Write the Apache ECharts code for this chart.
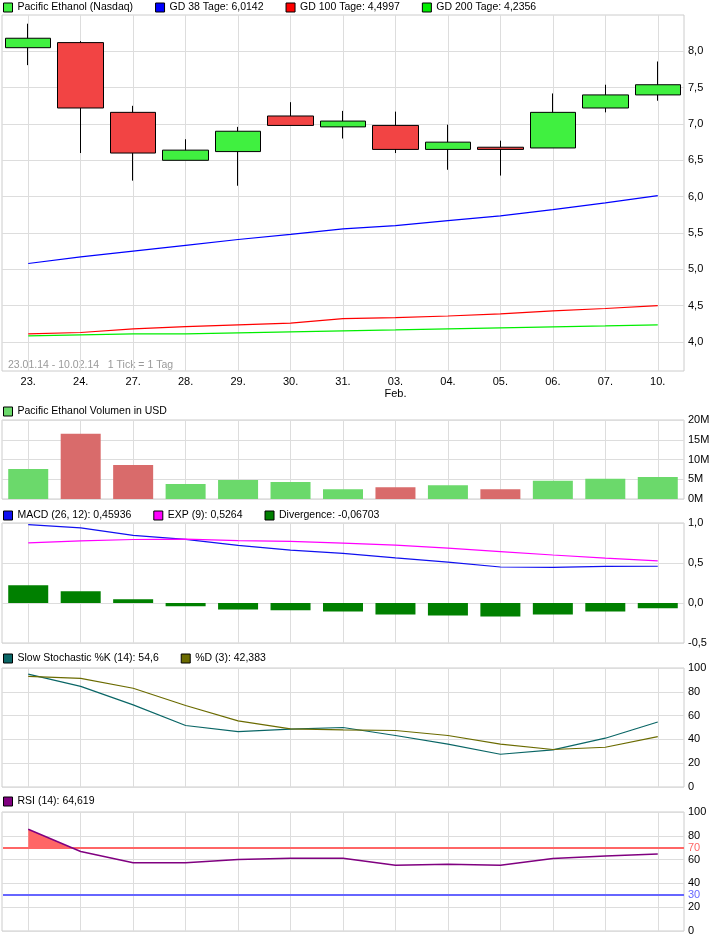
<!DOCTYPE html>
<html><head><meta charset="utf-8">
<script src="https://cdn.jsdelivr.net/npm/echarts@6/dist/echarts.min.js"></script>
<style>html,body{margin:0;padding:0;background:#fff}#c{width:726px;height:940px}</style>
</head><body><div id="c"></div>
<script>
// ---- data ----
const dates = ['23.','24.','27.','28.','29.','30.','31.','03.\nFeb.','04.','05.','06.','07.','10.'];
const openP  = [8.05, 8.12, 7.16, 6.50, 6.62, 7.11, 6.96, 6.98, 6.65, 6.68, 6.67, 7.22, 7.40];
const closeP = [8.18, 7.22, 6.60, 6.64, 6.90, 6.98, 7.04, 6.65, 6.75, 6.65, 7.16, 7.40, 7.54];
const lowP   = [7.81, 6.60, 6.22, 6.50, 6.15, 6.98, 6.80, 6.60, 6.37, 6.29, 6.67, 7.16, 7.32];
const highP  = [8.38, 8.14, 7.25, 6.79, 6.96, 7.30, 7.18, 7.17, 6.99, 6.77, 7.42, 7.54, 7.86];
const gd38  = [5.08, 5.17, 5.25, 5.33, 5.41, 5.48, 5.555, 5.60, 5.67, 5.735, 5.82, 5.915, 6.0142];
const gd100 = [4.11, 4.13, 4.18, 4.21, 4.234, 4.26, 4.32, 4.334, 4.357, 4.385, 4.427, 4.46, 4.4997];
const gd200 = [4.083, 4.097, 4.11, 4.11, 4.124, 4.138, 4.151, 4.165, 4.18, 4.193, 4.207, 4.22, 4.2356];
const volume = [7.6, 16.5, 8.6, 3.8, 4.8, 4.3, 2.5, 3.0, 3.5, 2.5, 4.6, 5.1, 5.6]; // in millions USD
const volDir = ['up','down','down','up','up','up','up','down','up','down','up','up','up'];
const macd = [0.98, 0.94, 0.845, 0.795, 0.72, 0.66, 0.62, 0.563, 0.51, 0.45, 0.445, 0.457, 0.45936];
const expSig = [0.752, 0.777, 0.794, 0.798, 0.78, 0.77, 0.748, 0.723, 0.685, 0.643, 0.60, 0.56, 0.5264];
const divergence = [0.223, 0.147, 0.046, -0.042, -0.08, -0.092, -0.105, -0.143, -0.155, -0.168, -0.143, -0.105, -0.06703];
const stochK = [94.9, 84.6, 69, 51.7, 46.6, 48.6, 50, 43.3, 36, 27.5, 31.2, 41, 54.6];
const stochD = [93, 91.3, 83, 68.5, 55.6, 48.9, 48, 47.5, 43.3, 36, 31.5, 33.4, 42.383];
const rsi = [85.5, 66.8, 57.3, 57.3, 60, 61.2, 61.2, 55.3, 56.1, 55.3, 60.9, 63.1, 64.619];
const priceTicks = [4.0, 4.5, 5.0, 5.5, 6.0, 6.5, 7.0, 7.5, 8.0];
const rsiUpper = 70;
const rsiLower = 30;
const rangeText = '23.01.14 - 10.02.14   1 Tick = 1 Tag';

// ---- chart ----
const FONT = 'Liberation Sans, Arial, sans-serif';
const GRIDLINE = '#DDDDDD';
const BORDER = '#CCCCCC';
const UPPER_COLOR = '#FF6666';
const LOWER_COLOR = '#6666FF';
const comma = (v, d) => v.toFixed(d).replace('.', ',');

const gridDefs = [
  {top: 15, height: 356},
  {top: 420, height: 79},
  {top: 523, height: 120},
  {top: 668, height: 119},
  {top: 812, height: 119}
];
const grids = gridDefs.map(g => ({left: 2, right: 42, top: g.top, height: g.height,
  show: true, borderColor: BORDER, borderWidth: 1, backgroundColor: '#fff'}));

const xAxes = gridDefs.map((g, i) => ({
  type: 'category', gridIndex: i, data: dates, boundaryGap: true,
  axisLine: {show: false}, axisTick: {show: false},
  axisLabel: {show: i === 0, color: '#000', fontSize: 11, fontFamily: FONT, margin: 5, lineHeight: 12},
  splitLine: {show: true, alignWithLabel: true, interval: 0, lineStyle: {color: GRIDLINE, width: 1}}
}));

const yBase = (i, extra) => Object.assign({
  type: 'value', gridIndex: i, position: 'right',
  axisLine: {show: false}, axisTick: {show: false},
  axisLabel: {color: '#000', fontSize: 11, fontFamily: FONT, margin: 4},
  splitLine: {show: true, lineStyle: {color: GRIDLINE, width: 1}}
}, extra);

const yAxes = [
  yBase(0, {min: 3.6, max: 8.5,
    axisTick: {show: false, customValues: priceTicks},
    axisLabel: {color: '#000', fontSize: 11, fontFamily: FONT, margin: 4, customValues: priceTicks, formatter: v => comma(v, 1)}}),
  yBase(1, {min: 0, max: 20, interval: 5,
    axisLabel: {color: '#000', fontSize: 11, fontFamily: FONT, margin: 4, formatter: v => v + 'M'}}),
  yBase(2, {min: -0.5, max: 1.0, interval: 0.5,
    axisLabel: {color: '#000', fontSize: 11, fontFamily: FONT, margin: 4, formatter: v => comma(v, 1)}}),
  yBase(3, {min: 0, max: 100, interval: 20}),
  yBase(4, {min: 0, max: 100, interval: 20})
];

const legendBase = (top, names, gap) => ({
  top: top, left: 3, padding: 0, icon: 'rect', itemWidth: 9, itemHeight: 9, itemGap: gap,
  selectedMode: false, data: names,
  itemStyle: {borderColor: '#000', borderWidth: 1},
  textStyle: {color: '#000', fontSize: 10.5, fontFamily: FONT}
});

const candleData = openP.map((o, i) => [o, closeP[i], lowP[i], highP[i]]);

// one custom series draws both RSI level lines (as filled 2px bands) with their labels
const levelSeries = {
  name: 'RSI levels', type: 'custom', xAxisIndex: 4, yAxisIndex: 4, silent: true, z: 5, clip: false,
  data: [[0, rsiUpper], [0, rsiLower]],
  renderItem: function (params, api) {
    const v = api.value(1);
    const cs = params.coordSys;
    const color = v === rsiUpper ? UPPER_COLOR : LOWER_COLOR;
    const y = Math.round(api.coord([0, v])[1]);
    return {type: 'group', children: [
      {type: 'rect', shape: {x: cs.x + 1, y: y - 1, width: cs.width - 1, height: 2},
        style: {fill: color}},
      {type: 'text', x: cs.x + cs.width + 4, y: y,
        style: {text: String(v), fill: color, font: '11px ' + FONT, verticalAlign: 'middle', textVerticalAlign: 'middle'}}
    ]};
  }
};

const option = {
  animation: false,
  backgroundColor: '#fff',
  grid: grids,
  xAxis: xAxes,
  yAxis: yAxes,
  legend: [
    legendBase(2, ['Pacific Ethanol (Nasdaq)', 'GD 38 Tage: 6,0142', 'GD 100 Tage: 4,4997', 'GD 200 Tage: 4,2356'], 22),
    legendBase(406, ['Pacific Ethanol Volumen in USD'], 22),
    legendBase(510, ['MACD (26, 12): 0,45936', 'EXP (9): 0,5264', 'Divergence: -0,06703'], 22),
    legendBase(653, ['Slow Stochastic %K (14): 54,6', '%D (3): 42,383'], 22),
    legendBase(796, ['RSI (14): 64,619'], 22)
  ],
  graphic: [{type: 'text', left: 8, top: 360, silent: true,
    style: {text: rangeText, fill: '#999999', font: '10.5px ' + FONT}}],
  series: [
    {name: 'Pacific Ethanol (Nasdaq)', type: 'candlestick', xAxisIndex: 0, yAxisIndex: 0,
      data: candleData, barWidth: 46, silent: true,
      itemStyle: {color: '#40F040', color0: '#F24444', borderColor: '#000', borderColor0: '#000', borderWidth: 1}},
    {name: 'GD 38 Tage: 6,0142', type: 'line', xAxisIndex: 0, yAxisIndex: 0, data: gd38,
      symbol: 'none', silent: true, color: '#0000FF', lineStyle: {width: 1.2}},
    {name: 'GD 100 Tage: 4,4997', type: 'line', xAxisIndex: 0, yAxisIndex: 0, data: gd100,
      symbol: 'none', silent: true, color: '#FF0000', lineStyle: {width: 1.2}},
    {name: 'GD 200 Tage: 4,2356', type: 'line', xAxisIndex: 0, yAxisIndex: 0, data: gd200,
      symbol: 'none', silent: true, color: '#00EE00', lineStyle: {width: 1.2}},
    {name: 'Pacific Ethanol Volumen in USD', type: 'bar', xAxisIndex: 1, yAxisIndex: 1,
      barWidth: 40, silent: true, color: '#6BD96B',
      data: volume.map((v, i) => ({value: v, itemStyle: {color: volDir[i] === 'up' ? '#6BD96B' : '#D96B6B'}}))},
    {name: 'MACD (26, 12): 0,45936', type: 'line', xAxisIndex: 2, yAxisIndex: 2, data: macd,
      symbol: 'none', silent: true, color: '#1010F0', lineStyle: {width: 1.2}, z: 3},
    {name: 'EXP (9): 0,5264', type: 'line', xAxisIndex: 2, yAxisIndex: 2, data: expSig,
      symbol: 'none', silent: true, color: '#FF00FF', lineStyle: {width: 1.2}, z: 3},
    {name: 'Divergence: -0,06703', type: 'bar', xAxisIndex: 2, yAxisIndex: 2, data: divergence,
      barWidth: 40, silent: true, color: '#008000'},
    {name: 'Slow Stochastic %K (14): 54,6', type: 'line', xAxisIndex: 3, yAxisIndex: 3, data: stochK,
      symbol: 'none', silent: true, color: '#0A6666', lineStyle: {width: 1.2}},
    {name: '%D (3): 42,383', type: 'line', xAxisIndex: 3, yAxisIndex: 3, data: stochD,
      symbol: 'none', silent: true, color: '#6B6B00', lineStyle: {width: 1.2}},
    {name: 'RSI fill', type: 'custom', xAxisIndex: 4, yAxisIndex: 4, silent: true, z: 1,
      itemStyle: {color: UPPER_COLOR},
      data: rsi.slice(0, -1).map((v, i) => [i, v, rsi[i + 1]]),
      renderItem: function (params, api) {
        const lvl = rsiUpper;
        const i = api.value(0), a = api.value(1), b = api.value(2);
        if (a <= lvl && b <= lvl) return null;
        const pA = api.coord([i, a]), pB = api.coord([i + 1, b]);
        const pA0 = api.coord([i, lvl]), pB0 = api.coord([i + 1, lvl]);
        let pts;
        if (a > lvl && b > lvl) pts = [pA, pB, pB0, pA0];
        else {
          const t = (a - lvl) / (a - b);
          const x = pA[0] + (pB[0] - pA[0]) * t;
          pts = a > lvl ? [pA, [x, pA0[1]], pA0] : [[x, pA0[1]], pB, pB0];
        }
        return {type: 'polygon', shape: {points: pts}, style: {fill: UPPER_COLOR, stroke: null}};
      }},
    levelSeries,
    {name: 'RSI (14): 64,619', type: 'line', xAxisIndex: 4, yAxisIndex: 4, data: rsi,
      symbol: 'none', silent: true, color: '#800080', lineStyle: {width: 1.5}, z: 6}
  ]
};

const chart = echarts.init(document.getElementById('c'), null, {renderer: 'canvas'});
chart.setOption(option);
</script>
</body></html>
